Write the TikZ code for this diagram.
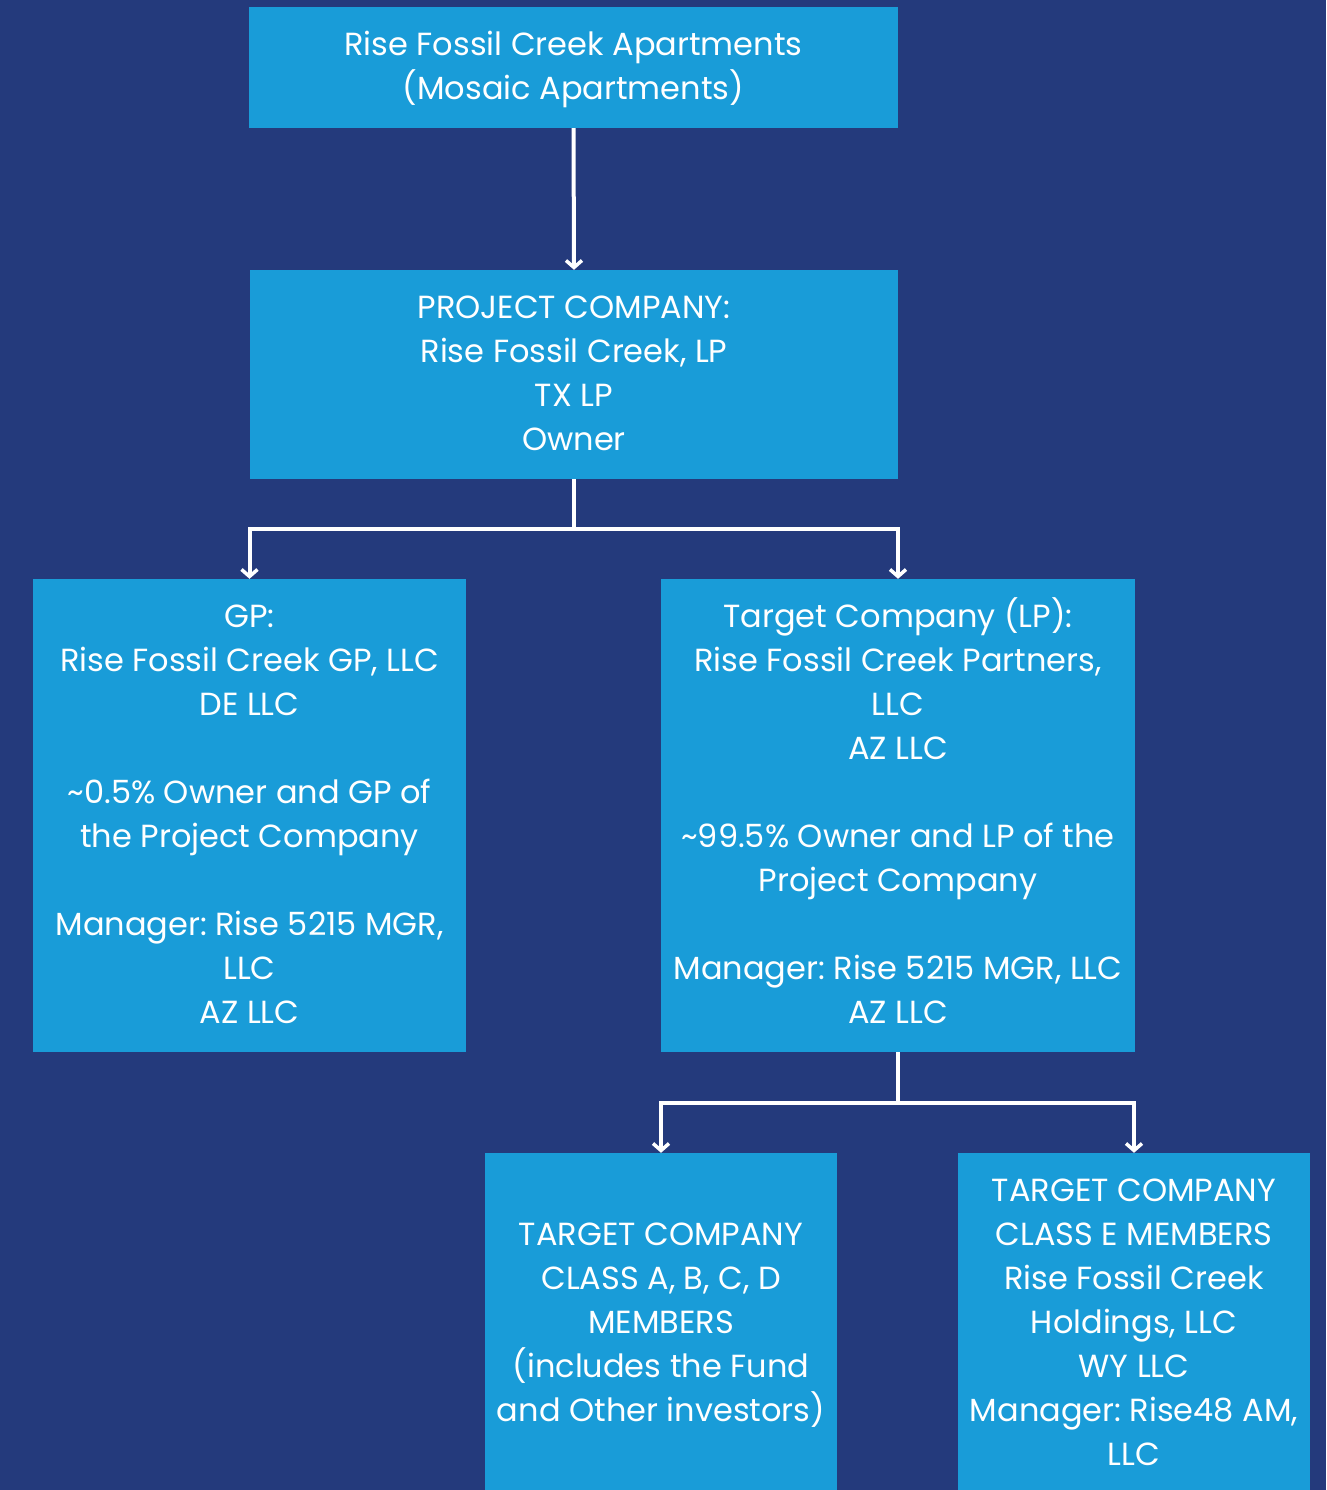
\documentclass[tikz,border=0pt]{standalone}
\usepackage{fontspec}
\setmainfont{Poppins}
\usetikzlibrary{arrows.meta}
\definecolor{bgblue}{HTML}{243A7C}
\definecolor{boxblue}{HTML}{199CD8}
\tikzset{
  ent/.style={fill=boxblue, draw=none, inner sep=0pt},
  txt/.style={text=white, align=center, inner sep=0pt,
    font=\fontsize{32}{44}\selectfont\frenchspacing},
  conn/.style={draw=white, line width=4pt, -{Straight Barb[length=7pt,width=16pt,line width=3.5pt]}}
}
\begin{document}
\begin{tikzpicture}[x=1pt,y=-1pt]
\fill[bgblue] (0,0) rectangle (1326,1490);
\useasboundingbox (0,0) rectangle (1326,1490);
\node[ent, minimum width=649pt, minimum height=121pt,
  label={[txt,yshift=-2pt]center:{Rise Fossil Creek Apartments\\(Mosaic Apartments)}}] (top) at (573.5,67.5) {};
\node[ent, minimum width=648pt, minimum height=209pt,
  label={[txt,yshift=1pt]center:{PROJECT COMPANY:\\Rise Fossil Creek, LP\\TX LP\\Owner}}] (proj) at (574,374.5) {};
\node[ent, minimum width=433pt, minimum height=473pt,
  label={[txt,yshift=1pt]center:{GP:\\Rise Fossil Creek GP, LLC\\DE LLC\\[44pt]\textasciitilde0.5\% Owner and GP of\\the Project Company\\[44pt]Manager: Rise 5215 MGR,\\LLC\\AZ LLC}}] (gp) at (249.5,815.5) {};
\node[ent, minimum width=474pt, minimum height=473pt,
  label={[txt,yshift=4.5pt]center:{Target Company (LP):\\Rise Fossil Creek Partners,\\LLC\\AZ LLC\\[44pt]\textasciitilde99.5\% Owner and LP of the\\Project Company\\[44pt]Manager: Rise 5215 MGR, LLC\\AZ LLC}}] (tgt) at (898,815.5) {};
\node[ent, minimum width=352pt, minimum height=337pt,
  label={[txt,yshift=-4pt]center:{TARGET COMPANY\\CLASS A, B, C, D\\MEMBERS\\(includes the Fund\\and Other investors)}}] (abcd) at (661,1321.5) {};
\node[ent, minimum width=352pt, minimum height=337pt,
  label={[txt,yshift=-1pt]center:{TARGET COMPANY\\CLASS E MEMBERS\\Rise Fossil Creek\\Holdings, LLC\\WY LLC\\Manager: Rise48 AM,\\LLC}}] (cle) at (1134,1321.5) {};
\draw[conn] (top.south) -- (proj.north);
\draw[conn] (proj.south) -- ++(0,50) -| (gp.north);
\draw[conn] (proj.south) -- ++(0,50) -| (tgt.north);
\draw[conn] (tgt.south) -- ++(0,51) -| (abcd.north);
\draw[conn] (tgt.south) -- ++(0,51) -| (cle.north);
\end{tikzpicture}
\end{document}
